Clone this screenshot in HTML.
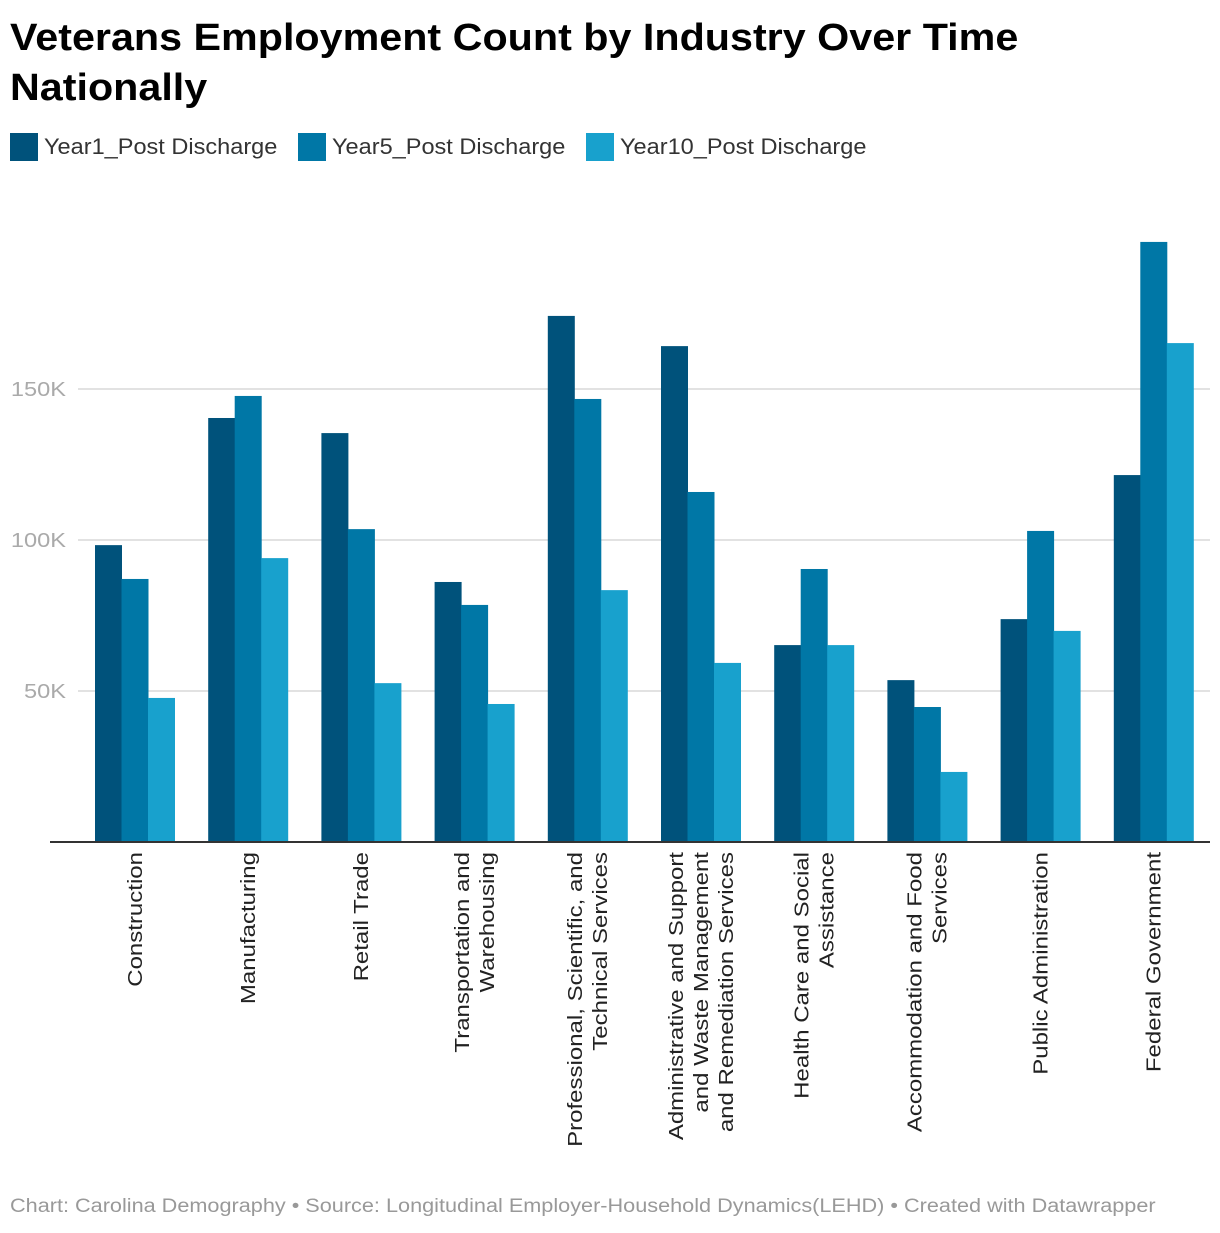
<!DOCTYPE html>
<html><head><meta charset="utf-8"><style>
body{margin:0;background:#fff;font-family:"Liberation Sans",sans-serif;}
</style></head><body>
<svg id="c" width="1220" height="1228" xmlns="http://www.w3.org/2000/svg" style="font-family:'Liberation Sans',sans-serif">
<text class="s" data-f="1.086" x="10" y="50" font-size="38" font-weight="bold" fill="#000">Veterans Employment Count by Industry Over Time</text>
<text class="s" data-f="1.086" x="10" y="100" font-size="38" font-weight="bold" fill="#000">Nationally</text>
<g>
<rect x="10" y="133" width="28" height="28" fill="#00527b"/>
<text class="s" data-f="1.07" x="44" y="154" font-size="22" fill="#333">Year1_Post Discharge</text>
<rect x="298" y="133" width="28" height="28" fill="#0077a6"/>
<text class="s" data-f="1.07" x="332" y="154" font-size="22" fill="#333">Year5_Post Discharge</text>
<rect x="586" y="133" width="28" height="28" fill="#18a1cd"/>
<text class="s" data-f="1.07" x="620" y="154" font-size="22" fill="#333">Year10_Post Discharge</text>
</g>
<g id="grid"></g><g id="bars"></g><g id="xl"></g>
<text class="s" data-f="1.14" x="10" y="1212" font-size="19" fill="#999">Chart: Carolina Demography • Source: Longitudinal Employer-Household Dynamics(LEHD) • Created with Datawrapper</text>
</svg>
<script>
const categories=[["Construction"],["Manufacturing"],["Retail Trade"],["Transportation and","Warehousing"],["Professional, Scientific, and","Technical Services"],["Administrative and Support","and Waste Management","and Remediation Services"],["Health Care and Social","Assistance"],["Accommodation and Food","Services"],["Public Administration"],["Federal Government"]];
const year1=[98.3,140.4,135.4,86.1,174.2,164.2,65.2,53.6,73.8,121.5];
const year5=[87.1,147.7,103.6,78.5,146.7,115.9,90.4,44.7,103,198.7];
const year10=[47.7,94.0,52.6,45.7,83.4,59.3,65.2,23.2,69.9,165.2];
const ticks=[50,100,150];
const tickLabels=["50K","100K","150K"];
const NS="http://www.w3.org/2000/svg";
const y0=842,pxPerK=3.02;
const y=v=>y0-v*pxPerK;
const gx=i=>95+i*113.2;
const bw=26.5;
function mk(t,a,p){const e=document.createElementNS(NS,t);for(const k in a)e.setAttribute(k,a[k]);p.appendChild(e);return e;}
const grid=document.getElementById('grid');
ticks.forEach((t,i)=>{
 const l=mk('line',{x1:78,x2:1210,y1:y(t),y2:y(t),stroke:'#e2e2e2','stroke-width':2},grid);
 
 
 const tx=mk('text',{x:66,y:y(t)+7,'text-anchor':'end','font-size':20,fill:'#aaa',class:'s','data-f':'1.18'},grid);
 tx.textContent=tickLabels[i];
 
 
});
const bars=document.getElementById('bars');
const series=[[year1,'#00527b','year1'],[year5,'#0077a6','year5'],[year10,'#18a1cd','year10']];
categories.forEach((c,i)=>{
 series.forEach((s,j)=>{
  const v=s[0][i];
  const r=mk('rect',{x:gx(i)+j*bw,y:y(v),width:bw+0.5,height:y0-y(v),fill:s[1]},bars);
  
  
 });
});
const base=mk('line',{x1:50,x2:1210,y1:y0,y2:y0,stroke:'#333','stroke-width':2},bars);


const xl=document.getElementById('xl');
categories.forEach((lines,i)=>{
 const cx=gx(i)+bw*1.5;
 const n=lines.length;
 lines.forEach((ln,k)=>{
  const off=(k-(n-1)/2)*25;
  const x=cx+off+7;
  const t=mk('text',{x:x,y:852,transform:`rotate(-90 ${x} 852)`,'text-anchor':'end','font-size':20,fill:'#222',class:'s','data-f':'1.2'},xl);
  t.textContent=ln;
  
  
 });
});
document.querySelectorAll('text.s').forEach(t=>{
 const f=parseFloat(t.getAttribute('data-f'));
 const w=t.getComputedTextLength();
 t.setAttribute('textLength',w*f);
 t.setAttribute('lengthAdjust','spacingAndGlyphs');
});
</script>
</body></html>
